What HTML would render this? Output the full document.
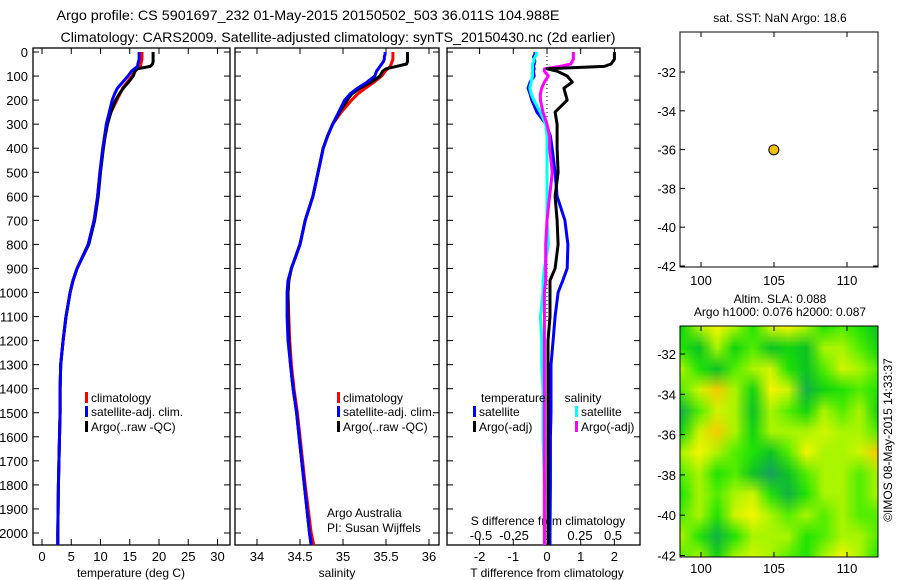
<!DOCTYPE html>
<html><head><meta charset="utf-8"><style>
body{margin:0;background:#fff;}
svg{display:block;font-family:"Liberation Sans",sans-serif;}
text{fill:#000;}
</style></head><body>
<svg id="fig" width="900" height="580" viewBox="0 0 900 580">
<rect width="900" height="580" fill="#fff"/>
<text x="308" y="20" font-size="14" text-anchor="middle" textLength="503" lengthAdjust="spacingAndGlyphs">Argo profile: CS 5901697_232 01-May-2015 20150502_503 36.011S 104.988E</text>
<text x="338" y="42" font-size="14" text-anchor="middle" textLength="555" lengthAdjust="spacingAndGlyphs">Climatology: CARS2009. Satellite-adjusted climatology: synTS_20150430.nc (2d earlier)</text>
<g id="g"></g>
<foreignObject x="680" y="326" width="198" height="231"><canvas xmlns="http://www.w3.org/1999/xhtml" id="hm" width="198" height="231" style="display:block"></canvas></foreignObject>
<g id="g2"></g>
</svg>
<script>
const depths=[0,10,20,30,40,50,60,70,80,100,125,150,175,200,250,300,350,400,500,600,700,800,900,950,1000,1100,1200,1300,1400,1500,1600,1800,2000,2050];
const tempClim=[17.1,17.1,17.1,17.1,17.0,16.9,16.8,16.3,15.9,15.4,14.6,13.8,13.3,12.8,11.8,11.1,10.7,10.4,9.9,9.5,8.9,7.9,6.0,5.3,4.8,4.1,3.6,3.2,3.1,3.1,3.0,2.8,2.7,2.7];
const tempSat=[16.6,16.6,16.6,16.6,16.5,16.4,16.3,15.8,15.3,14.7,13.8,12.9,12.4,12.0,11.5,11.0,10.7,10.4,9.9,9.5,8.9,7.9,6.0,5.3,4.8,4.1,3.6,3.2,3.1,3.1,3.0,2.8,2.7,2.7];
const tempArgo=[19.0,19.0,19.0,19.0,19.0,18.9,18.5,16.3,15.9,15.6,14.8,13.9,13.2,12.6,11.8,11.2,10.8,10.5,10.0,9.6,9.0,8.0,6.0,5.3,4.8,4.1,3.6,3.2,3.1,3.1,3.0,2.8,2.7,2.7];
const salClim=[35.58,35.58,35.58,35.58,35.57,35.56,35.55,35.52,35.49,35.45,35.36,35.26,35.17,35.10,34.98,34.88,34.82,34.77,34.71,34.65,34.56,34.50,34.40,34.37,34.36,34.37,34.38,34.40,34.43,34.47,34.50,34.56,34.63,34.66];
const salSat=[35.49,35.49,35.48,35.48,35.47,35.45,35.43,35.41,35.39,35.37,35.28,35.17,35.08,35.02,34.95,34.88,34.82,34.77,34.71,34.65,34.56,34.50,34.40,34.36,34.35,34.35,34.36,34.39,34.42,34.46,34.49,34.55,34.61,34.63];
const salArgo=[35.75,35.75,35.75,35.75,35.75,35.74,35.62,35.50,35.46,35.43,35.33,35.20,35.10,35.05,34.96,34.88,34.82,34.77,34.71,34.65,34.56,34.50,34.40,34.37,34.36,34.36,34.37,34.39,34.42,34.46,34.49,34.55,34.61,34.63];
const dTArgo=[2.0,2.0,2.0,2.0,1.95,1.9,1.7,0.0,0.3,0.6,0.75,0.5,0.55,0.6,0.24,0.3,0.3,0.3,0.33,0.24,0.3,0.33,0.24,0.09,0.09,0.09,0.03,0.03,0.03,0.03,0.03,0.03,0.03,0.03];
const dTSat=[-0.36,-0.36,-0.4,-0.38,-0.36,-0.38,-0.4,-0.38,-0.4,-0.38,-0.5,-0.56,-0.5,-0.45,-0.3,-0.03,0.1,0.15,0.24,0.3,0.53,0.62,0.6,0.47,0.33,0.24,0.18,0.12,0.12,0.12,0.1,0.1,0.09,0.09];
const dSArgo=[0.2,0.2,0.2,0.2,0.19,0.18,0.1,-0.02,-0.02,0.01,-0.02,-0.04,-0.05,-0.05,-0.03,0.0,0.02,0.02,0.04,0.02,0.0,-0.01,-0.01,-0.01,-0.02,-0.02,-0.02,-0.02,-0.02,-0.02,-0.02,-0.02,-0.02,-0.02];
const dSSat=[-0.08,-0.08,-0.09,-0.1,-0.1,-0.11,-0.11,-0.11,-0.11,-0.11,-0.12,-0.13,-0.12,-0.1,-0.05,-0.01,0.0,0.0,0.0,0.0,0.0,0.01,-0.02,-0.03,-0.03,-0.05,-0.04,-0.04,-0.03,-0.03,-0.03,-0.02,-0.02,-0.02];
const depthTicks=[0,100,200,300,400,500,600,700,800,900,1000,1100,1200,1300,1400,1500,1600,1700,1800,1900,2000];
const tempTicks=[0,5,10,15,20,25,30];
const salTicks=[34,34.5,35,35.5,36];
const dTTicks=[-2,-1,0,1,2];
const dSTicks=[-0.5,-0.25,0,0.25,0.5];
const floatLon=[104.988], floatLat=[-36.011];
const mapLonTicks=[100,105,110], mapLatTicks=[-32,-34,-36,-38,-40,-42];
const slaGrid=[
[0.3,0.6,0.8,0.6,0.4,0.7,0.8,0.6,0.4,0.5,0.4,0.2],
[0.4,0.2,0.6,0.3,0.5,0.2,0.3,0.2,0.6,0.6,0.5,0.3],
[0.6,0.4,0.2,0.5,0.6,0.7,0.4,0.2,0.5,0.7,0.6,0.5],
[0.5,0.7,0.9,0.6,0.3,0.8,0.7,0.1,0.3,0.4,0.5,0.4],
[0.1,0.5,0.7,0.6,0.2,0.6,0.5,0.3,0.6,0.5,0.6,0.3],
[0.3,0.7,0.9,0.6,0.3,0.6,0.6,0.6,0.7,0.6,0.6,0.5],
[0.6,0.8,0.6,0.5,0.4,0.2,0.5,0.8,0.6,0.6,0.7,0.9],
[0.5,0.6,0.4,0.5,0.2,0.0,0.2,0.5,0.6,0.6,0.5,0.6],
[0.4,0.6,0.5,0.6,0.7,0.4,0.1,0.4,0.6,0.6,0.5,0.6],
[0.5,0.6,0.4,0.7,0.8,0.6,0.5,0.6,0.5,0.6,0.5,0.5],
[0.6,0.4,0.1,0.4,0.6,0.6,0.6,0.4,0.5,0.6,0.6,0.5],
[0.5,0.6,0.3,0.6,0.7,0.6,0.5,0.4,0.6,0.8,0.6,0.4]];

const NS="http://www.w3.org/2000/svg";
const G=document.getElementById('g'), G2=document.getElementById('g2');
function el(tag,attrs,parent,txt){const e=document.createElementNS(NS,tag);for(const k in attrs)e.setAttribute(k,attrs[k]);if(txt!==undefined)e.textContent=txt;(parent||G).appendChild(e);return e;}
const yD=d=>52+d*(481/2000);
const TOP=48,BOT=545;
const xT=t=>42+t*5.85;
const xS=s=>257+(s-34)*86;
const xdT=v=>547+v*33.7;
const xdS=v=>547+v*132;

function panel(x0,x1,name,showY){
  const r=el('rect',{x:x0,y:TOP,width:x1-x0,height:BOT-TOP,fill:'none',stroke:'#000','stroke-width':1.3});
  
  depthTicks.forEach(d=>{
    el('line',{x1:x0,x2:x0+6,y1:yD(d),y2:yD(d),stroke:'#000'});
    el('line',{x1:x1,x2:x1-6,y1:yD(d),y2:yD(d),stroke:'#000'});
    if(showY){const t=el('text',{x:x0-5,y:yD(d)+5,'font-size':13,'text-anchor':'end'},G,String(d));
      }
  });
}
function xticks(ticks,fx,y,fmt,lname){
  ticks.forEach(v=>{
    el('line',{x1:fx(v),x2:fx(v),y1:BOT,y2:BOT-6,stroke:'#000'});
    el('line',{x1:fx(v),x2:fx(v),y1:TOP,y2:TOP+6,stroke:'#000'});
    const t=el('text',{x:fx(v),y:y,'font-size':13,'text-anchor':'middle'},G,fmt(v));
    
  });
}
function line(vals,fx,color,w,name){
  const p=depths.map((d,i)=>fx(vals[i]).toFixed(1)+','+yD(d).toFixed(1)).join(' ');
  const e=el('polyline',{points:p,fill:'none',stroke:color,'stroke-width':w,'stroke-linejoin':'round'});
  
}
function label(x,y,s,name,anchor,size){const t=el('text',{x:x,y:y,'font-size':size||12,'text-anchor':anchor||'start'},G,s);return t;}
function legendItem(x,y,color,s,name){
  const r=el('rect',{x:x,y:y-10,width:3,height:11,fill:color});
  label(x+6,y,s,name);
}

panel(33,230,'temperature-panel',true);
xticks(tempTicks,xT,561,v=>String(v),'temperature-tick-label');
line(tempClim,xT,'#f00',3,'temperature-climatology-line');
line(tempArgo,xT,'#000',3,'temperature-argo-line');
line(tempSat,xT,'#00f',3,'temperature-satellite-line');
label(131,577,'temperature (deg C)','temperature-axis-title','middle');
legendItem(85,402,'#f00','climatology','legend-climatology');
legendItem(85,416,'#00f','satellite-adj. clim.','legend-satellite-adj');
legendItem(85,431,'#000','Argo(..raw -QC)','legend-argo');

panel(235,439,'salinity-panel',false);
xticks(salTicks,xS,561,v=>String(v),'salinity-tick-label');
line(salClim,xS,'#f00',3,'salinity-climatology-line');
line(salArgo,xS,'#000',3,'salinity-argo-line');
line(salSat,xS,'#00f',3,'salinity-satellite-line');
label(337,577,'salinity','salinity-axis-title','middle');
legendItem(337,402,'#f00','climatology','legend-sal-climatology');
legendItem(337,416,'#00f','satellite-adj. clim.','legend-sal-satellite-adj');
legendItem(337,431,'#000','Argo(..raw -QC)','legend-sal-argo');
label(327,517,'Argo Australia','argo-australia-label');
label(327,532,'PI: Susan Wijffels','pi-label');

panel(447,640,'difference-panel',false);
dTTicks.forEach(v=>{el('line',{x1:xdT(v),x2:xdT(v),y1:BOT,y2:BOT-6,stroke:'#000'});el('line',{x1:xdT(v),x2:xdT(v),y1:TOP,y2:TOP+6,stroke:'#000'});
  label(xdT(v),561,String(v),'t-diff-tick-label','middle',13);});
dSTicks.forEach(v=>{label(xdS(v),540,String(v),'s-diff-tick-label','middle',13);});
label(548,525,'S difference from climatology','s-diff-axis-title','middle');
label(547,577,'T difference from climatology','t-diff-axis-title','middle');
const dl=el('line',{x1:547,x2:547,y1:TOP,y2:yD(1120),stroke:'#000','stroke-dasharray':'1,3'});

line(dTSat,xdT,'#00f',3,'t-diff-satellite-line');
line(dSSat,xdS,'#0ff',3,'s-diff-satellite-line');
line(dSArgo,xdS,'#f0f',3,'s-diff-argo-line');
line(dTArgo,xdT,'#000',3,'t-diff-argo-line');
label(481,402,'temperature','legend-temperature-heading');
legendItem(473,416,'#00f','satellite','legend-t-satellite');
legendItem(473,431,'#000','Argo(-adj)','legend-t-argo');
label(583,402,'salinity','legend-salinity-heading','middle');
legendItem(575,416,'#0ff','satellite','legend-s-satellite');
legendItem(575,431,'#f0f','Argo(-adj)','legend-s-argo');

const mxL=lon=>701+(lon-100)*14.6;
const myL=lat=>72+(-32-lat)*19.4;
const mf=el('rect',{x:680,y:32,width:198,height:235,fill:'none',stroke:'#000'},G2);

const mt=el('text',{x:780,y:22,'font-size':12,'text-anchor':'middle'},G2,'sat. SST: NaN Argo: 18.6');

mapLonTicks.forEach(v=>{el('line',{x1:mxL(v),x2:mxL(v),y1:267,y2:262,stroke:'#000'},G2);el('line',{x1:mxL(v),x2:mxL(v),y1:32,y2:37,stroke:'#000'},G2);
  const t=el('text',{x:mxL(v),y:285,'font-size':13,'text-anchor':'middle'},G2,String(v));});
mapLatTicks.forEach(v=>{el('line',{x1:680,x2:685,y1:myL(v),y2:myL(v),stroke:'#000'},G2);el('line',{x1:878,x2:873,y1:myL(v),y2:myL(v),stroke:'#000'},G2);
  const t=el('text',{x:676,y:myL(v)+5,'font-size':13,'text-anchor':'end'},G2,String(v));});
floatLon.forEach((lo,i)=>{const c=el('circle',{cx:mxL(lo),cy:myL(floatLat[i]),r:5,fill:'#f0c000',stroke:'#000'},G2);
  });

const hy=lat=>354+(-32-lat)*20.15;
const hmFrame=el('rect',{x:680,y:326,width:198,height:231,fill:'none',stroke:'#000'},G2);

[['Altim. SLA: 0.088',303],['Argo h1000: 0.076 h2000: 0.087',316]].forEach(a=>{const t=el('text',{x:780,y:a[1],'font-size':12,'text-anchor':'middle'},G2,a[0]);});
mapLonTicks.forEach(v=>{el('line',{x1:mxL(v),x2:mxL(v),y1:557,y2:552,stroke:'#000'},G2);el('line',{x1:mxL(v),x2:mxL(v),y1:326,y2:331,stroke:'#000'},G2);
  const t=el('text',{x:mxL(v),y:573,'font-size':13,'text-anchor':'middle'},G2,String(v));});
mapLatTicks.forEach(v=>{el('line',{x1:680,x2:685,y1:hy(v),y2:hy(v),stroke:'#000'},G2);
  const t=el('text',{x:676,y:hy(v)+5,'font-size':13,'text-anchor':'end'},G2,String(v));});
const cp=el('text',{x:0,y:0,'font-size':12,'text-anchor':'middle',transform:'translate(892,440) rotate(-90)'},G2,'©IMOS 08-May-2015 14:33:37');


const stops=[[0,[24,160,100]],[0.25,[10,205,20]],[0.45,[40,235,0]],[0.6,[170,245,0]],[0.8,[245,245,0]],[1,[245,165,0]]];
function cmap(v){for(let i=1;i<stops.length;i++){if(v<=stops[i][0]){const a=stops[i-1],b=stops[i],t=(v-a[0])/(b[0]-a[0]);return a[1].map((c,k)=>Math.round(c+(b[1][k]-c)*t));}}return stops[stops.length-1][1];}
const small=document.createElement('canvas');const R=slaGrid.length,C=slaGrid[0].length;small.width=C;small.height=R;
const sc=small.getContext('2d');const img=sc.createImageData(C,R);
slaGrid.forEach((row,r)=>row.forEach((v,c)=>{const col=cmap(v);const o=(r*C+c)*4;img.data[o]=col[0];img.data[o+1]=col[1];img.data[o+2]=col[2];img.data[o+3]=255;}));
sc.putImageData(img,0,0);
const hc=document.getElementById('hm').getContext('2d');hc.imageSmoothingEnabled=true;
hc.drawImage(small,0,0,C,R,-8,-10,214,251);
</script>
</body></html>
